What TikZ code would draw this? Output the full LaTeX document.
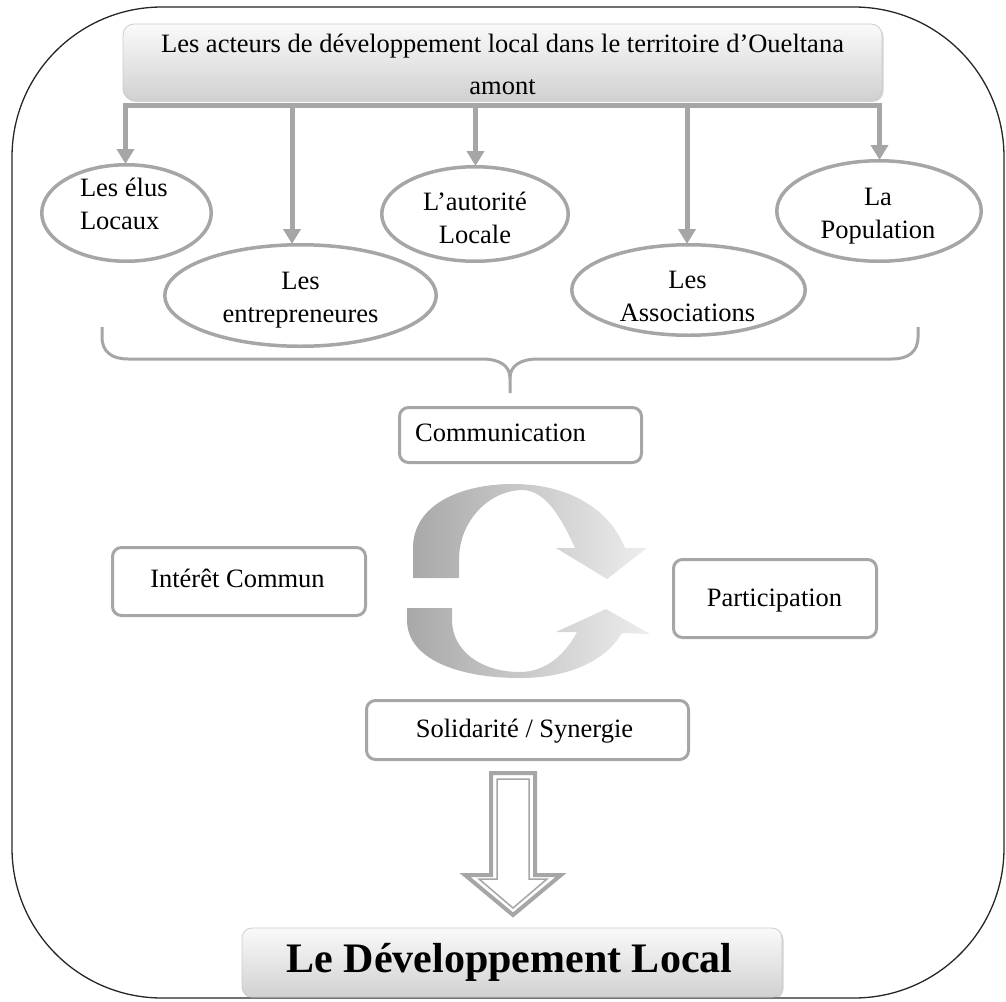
\documentclass[tikz,border=0pt]{standalone}
\usepackage{fontspec}
\setmainfont{Liberation Serif}
\usetikzlibrary{arrows.meta,shapes.geometric,shadows}
\definecolor{cgray}{HTML}{A6A6A6}
\tikzset{
  conn/.style={draw=cgray, line width=5pt, -{Triangle[width=17pt,length=15pt]}},
  barline/.style={draw=cgray, line width=5pt},
  ell/.style={ellipse, draw=cgray, line width=3.5pt, fill=white, inner sep=0pt},
  rbox/.style={rectangle, rounded corners=9pt, draw=cgray, line width=3pt, fill=white, inner sep=0pt},
  txt/.style={inner sep=0pt, font=\fontsize{26.5}{33}\selectfont, align=center},
  gradbox/.style={rectangle, rounded corners=11pt, top color=gray!4, bottom color=gray!36, draw=gray!40, line width=0.8pt, inner sep=0pt,
    drop shadow={shadow xshift=1.5pt, shadow yshift=-2pt, opacity=0.35}},
  brace/.style={draw=cgray, line width=3pt},
  cyc/.style={left color=gray!68, right color=gray!14},
}
\begin{document}
\begin{tikzpicture}[x=1pt,y=-1pt]
\useasboundingbox (0,0) rectangle (1006,1001);
% outer frame
\draw[black!85, line width=1.3pt, rounded corners=150pt] (12,7) rectangle (1004,998);

% top box
\node[gradbox, minimum width=759pt, minimum height=76pt] (top) at (502.5,62) {};
\node[txt, font=\fontsize{26.5}{42}\selectfont] (toptext) at (502.5,64.9) {Les acteurs de développement local dans le territoire d’Oueltana\\amont};

% ellipses
\node[ell, minimum width=169.5pt, minimum height=96.5pt] (e1) at (126.5,213) {};
\node[ell, minimum width=271.5pt, minimum height=101.5pt] (e2) at (300.5,295.5) {};
\node[ell, minimum width=186.5pt, minimum height=94.5pt] (e3) at (475,214) {};
\node[ell, minimum width=233.5pt, minimum height=90.5pt] (e4) at (688.5,290) {};
\node[ell, minimum width=204.5pt, minimum height=100.5pt] (e5) at (879,211) {};
\node[txt, align=left] (t1) at (123.8,204.4) {Les élus\\Locaux};
\node[txt] (t2) at (300.5,300.6) {Les\\entrepreneures};
\node[txt] (t3) at (475,218.4) {L’autorité\\Locale};
\node[txt] (t4) at (687.5,296.3) {Les\\Associations};
\node[txt] (t5) at (878,216.6) {La\\Population};

% bar and arrows
\coordinate (barL) at (123,105);
\coordinate (barR) at (882,105);
\draw[barline] (barL) -- (barR);
\coordinate (a1) at (125.5,103);
\coordinate (a2) at (292,103);
\coordinate (a3) at (475.5,103);
\coordinate (a4) at (687,103);
\coordinate (a5) at (879.5,103);
\draw[conn, shorten >=-1pt] (a1) -- (a1 |- e1.north);
\draw[conn, shorten >=-1pt] (a2) -- (a2 |- e2.north);
\draw[conn, shorten >=-1pt] (a3) -- (a3 |- e3.north);
\draw[conn, shorten >=-1pt] (a4) -- (a4 |- e4.north);
\draw[conn, shorten >=-1pt] (a5) -- (a5 |- e5.north);

% brace
\draw[brace] (102,327) -- (102,337) .. controls (102,352) and (112,359) .. (128,359) -- (482,359) .. controls (500,359) and (510,366) .. (510,378) -- (510,393);
\draw[brace] (510,378) .. controls (510,366) and (520,359) .. (538,359) -- (892,359) .. controls (908,359) and (918,352) .. (918,337) -- (918,327);

% boxes
\node[rbox, minimum width=242pt, minimum height=55pt] (comm) at (520.5,435) {};
\node[txt, anchor=west] (commtext) at (415,433) {Communication};
\node[rbox, minimum width=253pt, minimum height=68pt] (inter) at (239,581.5) {};
\node[txt] (intertext) at (237.5,578.9) {Intérêt Commun};
\node[rbox, minimum width=203pt, minimum height=78pt] (part) at (775,598.5) {};
\node[txt] (parttext) at (774.5,600.8) {Participation};
\node[rbox, minimum width=322pt, minimum height=59pt] (sol) at (527.5,730) {};
\node[txt] (soltext) at (524.5,730.7) {Solidarité / Synergie};

% circular arrows
\shade[cyc] (413,578) -- (413,548) .. controls (413,505) and (460,484) .. (513,484) .. controls (570,484) and (610,510) .. (625,548) -- (647,548) -- (607,579) -- (556,548) -- (575,548) .. controls (560,515) and (545,491) .. (523,490) .. controls (490,490) and (459,520) .. (459,560) -- (459,578) -- cycle;
\shade[cyc] (407,608) -- (407,620) .. controls (407,660) and (460,678) .. (520,678) .. controls (570,678) and (606,660) .. (622,633) -- (650,634) -- (606,609) -- (556,632) -- (577,632) .. controls (565,655) and (545,672) .. (520,672) .. controls (480,672) and (452,650) .. (452,620) -- (452,608) -- cycle;

% hollow arrow
\filldraw[fill=white, draw=cgray, line width=4pt, line join=miter] (491,773) -- (535,773) -- (535,875) -- (561,875) -- (513,915) -- (465,875) -- (491,875) -- cycle;
\draw[cgray, line width=1.5pt] (497,779) -- (529,779) -- (529,879) -- (547,879) -- (513,908) -- (479,879) -- (497,879) -- cycle;

% final box
\node[gradbox, rounded corners=10pt, minimum width=540pt, minimum height=69pt] (final) at (512,962.5) {};
\node[inner sep=0pt, font=\fontsize{42}{50}\selectfont\bfseries] (finaltext) at (509.5,962) {Le Développement Local};
\end{tikzpicture}
\end{document}
